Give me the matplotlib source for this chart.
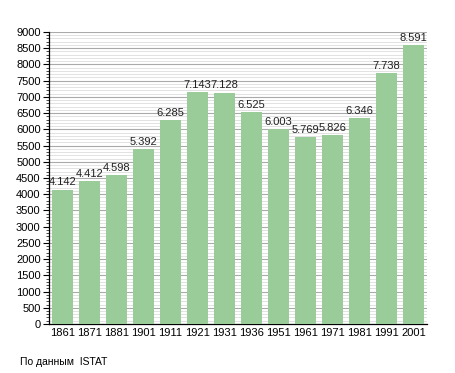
import numpy as np
import matplotlib
matplotlib.use('Agg')
import matplotlib.pyplot as plt
from matplotlib.ticker import MultipleLocator

years = ['1861', '1871', '1881', '1901', '1911', '1921', '1931',
         '1936', '1951', '1961', '1971', '1981', '1991', '2001']
population = [4142, 4412, 4598, 5392, 6285, 7143, 7128,
              6525, 6003, 5769, 5826, 6346, 7738, 8591]
value_labels = ['4.142', '4.412', '4.598', '5.392', '6.285', '7.143', '7.128',
                '6.525', '6.003', '5.769', '5.826', '6.346', '7.738', '8.591']

plt.rcParams['font.family'] = ['Liberation Sans', 'DejaVu Sans']

fig = plt.figure(figsize=(4.55, 3.73), dpi=100)
ax = fig.add_axes([0.1077, 0.1314, 0.8308, 0.7828])

x = np.arange(len(years))
ax.bar(x, population, width=0.78, color='#99cc99', zorder=3)

for xi, v, lab in zip(x, population, value_labels):
    ax.text(xi, v + 70, lab, ha='center', va='bottom', fontsize=8,
            color='#222222', zorder=4)

ax.set_xlim(-0.5, len(years) - 0.5)
ax.set_ylim(0, 9000)
ax.set_xticks(x)
ax.set_xticklabels(years)
ax.yaxis.set_major_locator(MultipleLocator(500))
ax.yaxis.set_minor_locator(MultipleLocator(100))
ax.grid(axis='y', which='major', color='#aaaaaa', linewidth=0.8, zorder=1)
ax.grid(axis='y', which='minor', color='#dddddd', linewidth=0.6, zorder=0)

for s in ['top', 'right']:
    ax.spines[s].set_visible(False)
ax.spines['left'].set_linewidth(0.9)
ax.spines['bottom'].set_linewidth(0.9)
ax.tick_params(axis='y', which='major', length=4, width=0.8, labelsize=8, pad=2)
ax.tick_params(axis='y', which='minor', length=2, width=0.5)
ax.tick_params(axis='x', length=0, labelsize=8, pad=3)

fig.text(0.044, 0.015, 'По данным  ISTAT', fontsize=7.5, ha='left', va='bottom')

fig.savefig('out.png', dpi=100)
